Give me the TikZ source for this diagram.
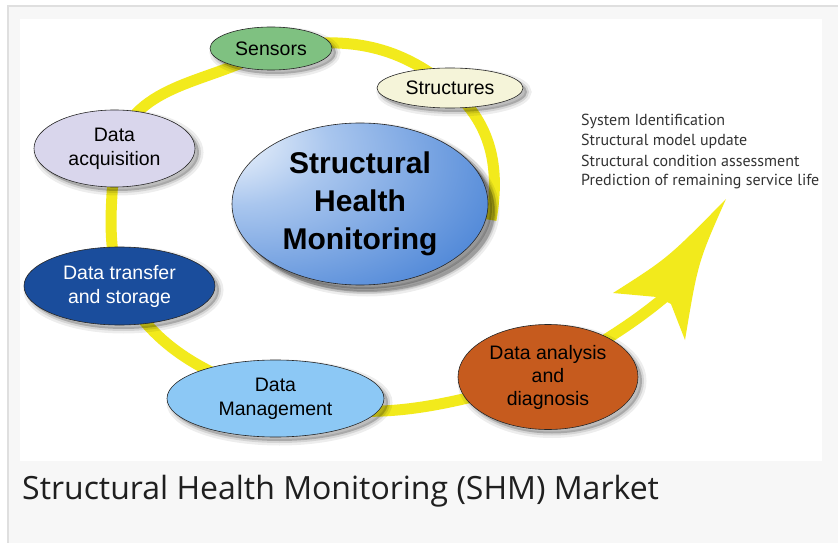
\documentclass[tikz,border=0pt]{standalone}
\usepackage{fontspec}
\setmainfont{Liberation Sans}
\newfontfamily\capfont{Open Sans}
\newfontfamily\listfont{PT Sans}
\usetikzlibrary{shapes.geometric,shadows}

\pgfdeclarelayer{back}
\pgfdeclarelayer{background}
\pgfsetlayers{back,background,main}

\definecolor{ringyellow}{HTML}{F2EA1C}
\definecolor{sensgreen}{HTML}{7FC181}
\definecolor{structcream}{HTML}{F5F4D9}
\definecolor{acqlav}{HTML}{D9D6EC}
\definecolor{transblue}{HTML}{1A4D9C}
\definecolor{mgmtblue}{HTML}{8CC8F5}
\definecolor{anacopper}{HTML}{C65B1E}
\definecolor{shmlight}{HTML}{A9C6EE}
\definecolor{shmblue}{HTML}{5088D8}
\definecolor{shmdark}{HTML}{2E66C2}
\definecolor{pagegray}{HTML}{F7F7F7}
\definecolor{framegray}{HTML}{DFDFDF}

\pgfdeclareradialshading{shmshade}{\pgfpoint{-30bp}{22bp}}{color(0bp)=(white); color(18bp)=(shmlight); color(45bp)=(shmblue); color(90bp)=(shmdark)}

\begin{document}
\begin{tikzpicture}[
    x = 1pt, y = 1pt,
    softshadow/.style={
      general shadow = {fill = black, fill opacity = 0.2, draw = black,
        draw opacity = 0.07, line width = 9pt,
        shadow xshift = #1, shadow yshift = -#1},
      general shadow = {draw = black, draw opacity = 0.1, line width = 4pt,
        shadow xshift = #1, shadow yshift = -#1} },
    phase/.style={ ellipse, draw = black!85, line width = 0.6pt,
      inner sep = 0pt, align = center, softshadow = 4pt,
      font = \fontsize{19.5}{24}\selectfont },
    ring/.style={ draw = ringyellow, line width = 11pt },
    listitem/.style={ anchor = base west, inner sep = 0pt,
      text = black!80, font = \listfont\fontsize{16}{20}\selectfont }
    ]
  \useasboundingbox (0,0) rectangle (838,542);
  \begin{pgfonlayer}{back}
    \fill[white] (0,0) rectangle (838,542);
    \draw[framegray, line width = 1.5pt, fill = pagegray] (8,-5) rectangle (850,536);
    \fill[white] (20,81) rectangle (822,523);
  \end{pgfonlayer}

  \node[phase, fill = sensgreen, minimum width = 122pt, minimum height = 43pt] (sensors) at (271,493.5) {Sensors};
  \node[phase, fill = structcream, minimum width = 146pt, minimum height = 40pt] (structures) at (450,454) {Structures};
  \node[phase, fill = acqlav, minimum width = 161pt, minimum height = 77pt] (acquisition) at (114.5,393.5) {Data\\acquisition};
  \node[phase, shading = shmshade, minimum width = 256pt, minimum height = 162pt, softshadow = 7pt,
    font = \fontsize{30}{38}\selectfont\bfseries] (shm) at (360,338) {Structural\\Health\\Monitoring};
  \node[phase, fill = transblue, text = white, minimum width = 191pt, minimum height = 78pt] (transfer) at (119.5,256) {Data transfer\\and storage};
  \node[phase, fill = mgmtblue, minimum width = 217pt, minimum height = 77pt] (management) at (275.5,143.5) {Data\\Management};
  \node[phase, fill = anacopper, minimum width = 180pt, minimum height = 105pt,
    font = \fontsize{19.5}{23}\selectfont] (analysis) at (548,165) {Data analysis\\and\\diagnosis};

  \coordinate (ringstart) at (491,322);
  \coordinate (headbase) at (666,246);
  \coordinate (tip) at (726,343);
  \coordinate (lbarb) at (613,249);
  \coordinate (lnotch) at (657,245);
  \coordinate (rnotch) at (671,238);
  \coordinate (rbarb) at (685,202);

  \begin{pgfonlayer}{background}
    \draw[ring] (ringstart) to[out = 80, in = -40] (structures.center)
      to[out = 140, in = 10] (sensors.center)
      to[out = 210, in = 70] (acquisition.center)
      to[out = -92, in = 105] (transfer.center)
      to[out = -60, in = 160] (management.center)
      to[out = -15, in = 195] (analysis.center)
      to[out = 35, in = 220] (headbase);
    \fill[ringyellow] (tip) .. controls (668,284) .. (lbarb) -- (lnotch)
      -- (rnotch) -- (rbarb) .. controls (698,280) .. (tip);
  \end{pgfonlayer}

  \node[listitem] (identification) at (581,416) {System Identification};
  \node[listitem] (update) at (581,396) {Structural model update};
  \node[listitem] (assessment) at (581,376) {Structural condition assessment};
  \node[listitem] (prediction) at (581,356) {Prediction of remaining service life};

  \node[anchor = base west, inner sep = 0pt, text = black!88,
    font = \capfont\fontsize{32}{36}\selectfont] (caption) at (22,43) {Structural Health Monitoring (SHM) Market};
\end{tikzpicture}
\end{document}
